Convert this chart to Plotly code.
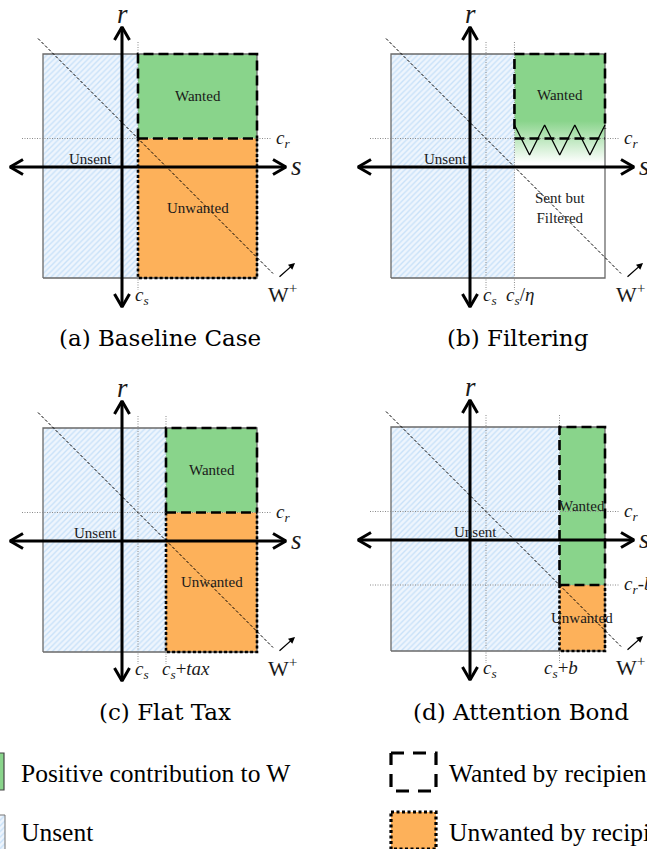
import plotly.graph_objects as go

FIG_W, FIG_H = 647, 849
PX = 10.0  # pixels per diagram unit

# ---- model quantities (diagram units, origin at the axis crossing) ----
S_RANGE = [-7.9, 13.5]      # sender-benefit extent of the message space
R_RANGE = [-11.1, 11.3]     # recipient-benefit extent
C_S = 1.6                   # sender cost
C_R = 2.85                  # recipient attention cost
ETA = 0.36                  # filter accuracy
TAX = 2.8                   # flat tax
BOND = 7.35                 # attention bond
W_SPAN = [-8.4, 15.1]       # extent of the iso-welfare line s + r = c_s + c_r
FADE_ZIGZAG_R = [4.2, 1.2, 4.2, 1.2, 4.2, 1.2, 4.2]  # filter edge in panel (b)

captions = ["(a) Baseline Case", "(b) Filtering", "(c) Flat Tax", "(d) Attention Bond"]
send_thresholds = [C_S, C_S / ETA, C_S + TAX, C_S + BOND]
want_thresholds = [C_R, C_R, C_R, C_R - BOND]
send_labels = [None, "<i>c<sub>s</sub></i>/<i>η</i>",
               "<i>c<sub>s</sub></i>+<i>tax</i>", "<i>c<sub>s</sub></i>+<i>b</i>"]
want_labels = [None, None, None, "<i>c<sub>r</sub></i>-<i>b</i>"]
unsent_label_s = [-3.2, -2.5, -2.7, 0.5]

# panel placement in pixels: (left, top, right, bottom, origin_x, origin_y)
boxes = [(0, 0, 320, 320, 122, 167), (320, 0, 647, 320, 470, 167),
         (0, 370, 320, 690, 122, 541), (320, 370, 647, 690, 470, 540)]
caption_px = [(160, 338), (518, 338), (165, 712), (521, 712)]

GREEN = "#89d48b"
ORANGE = "#fdb15a"
HATCH_FG = "#a3cdf4"
HATCH_BG = "#eef5fd"
BORDER_GREY = "#6a6a6a"
GUIDE = "#8a8a8a"
SERIF = "Liberation Serif, Times New Roman, serif"
CAPTION_FONT = "DejaVu Serif, serif"
TXT = "#1a1a1a"

fig = go.Figure()
layout = dict(width=FIG_W, height=FIG_H, margin=dict(l=0, r=0, t=0, b=0),
              paper_bgcolor="white", plot_bgcolor="rgba(0,0,0,0)",
              showlegend=False, annotations=[])


def line(xa, ya, xs, ys, color="black", width=1.0, dash=None, fill=None,
         fillcolor=None, **kw):
    fig.add_trace(go.Scatter(x=xs, y=ys, mode="lines", xaxis=xa, yaxis=ya,
                             line=dict(color=color, width=width, dash=dash),
                             fill=fill, fillcolor=fillcolor, hoverinfo="skip",
                             **kw))


def rect_path(s0, s1, r0, r1):
    return [s0, s1, s1, s0, s0], [r0, r0, r1, r1, r0]


def text(xa, ya, x, y, t, size, xanchor="center", italic=False, color=TXT,
         family=SERIF):
    layout["annotations"].append(dict(
        x=x, y=y, xref=xa, yref=ya, text=f"<i>{t}</i>" if italic else t,
        showarrow=False, xanchor=xanchor, yanchor="middle",
        font=dict(family=family, size=size, color=color)))


def double_arrow(xa, ya, p0, p1, vertical):
    head, half = 1.3, 0.75
    if vertical:
        line(xa, ya, [0, 0], [p0, p1], width=3)
        line(xa, ya, [-half, 0, half], [p1 - head, p1, p1 - head], width=3)
        line(xa, ya, [-half, 0, half], [p0 + head, p0, p0 + head], width=3)
    else:
        line(xa, ya, [p0, p1], [0, 0], width=3)
        line(xa, ya, [p1 - head, p1, p1 - head], [-half, 0, half], width=3)
        line(xa, ya, [p0 + head, p0, p0 + head], [-half, 0, half], width=3)


for i in range(4):
    sfx = "" if i == 0 else str(i + 1)
    xa, ya = "x" + sfx, "y" + sfx
    L, T, R, B, ox, oy = boxes[i]
    layout["xaxis" + sfx] = dict(domain=[L / FIG_W, R / FIG_W],
                                 range=[(L - ox) / PX, (R - ox) / PX],
                                 visible=False, fixedrange=True,
                                 anchor="y" + sfx)
    layout["yaxis" + sfx] = dict(domain=[1 - B / FIG_H, 1 - T / FIG_H],
                                 range=[(oy - B) / PX, (oy - T) / PX],
                                 visible=False, fixedrange=True,
                                 anchor="x" + sfx)

    s0, s1 = S_RANGE
    r0, r1 = R_RANGE
    ts = send_thresholds[i]
    tr = want_thresholds[i]

    # sent region fills
    if i == 1:
        xs, ys = rect_path(ts, s1, 0.0, r1)
        fig.add_trace(go.Scatter(
            x=xs, y=ys, mode="lines", xaxis=xa, yaxis=ya, fill="toself",
            line=dict(width=0), hoverinfo="skip",
            fillgradient=dict(type="vertical", start=0.4, stop=4.6,
                              colorscale=[[0, "white"], [1, GREEN]])))
    else:
        xs, ys = rect_path(ts, s1, tr, r1)
        line(xa, ya, xs, ys, width=0, fill="toself", fillcolor=GREEN)
        xs, ys = rect_path(ts, s1, r0, tr)
        line(xa, ya, xs, ys, width=0, fill="toself", fillcolor=ORANGE)

    # unsent region (hatched)
    xs, ys = rect_path(s0, ts, r0, r1)
    fig.add_trace(go.Scatter(
        x=xs, y=ys, mode="lines", xaxis=xa, yaxis=ya, fill="toself",
        line=dict(width=0), hoverinfo="skip",
        fillpattern=dict(shape="/", fgcolor=HATCH_FG, bgcolor=HATCH_BG,
                         size=4, solidity=0.35)))

    # outer border of the message space
    xs, ys = rect_path(s0, s1, r0, r1)
    line(xa, ya, xs, ys, color=BORDER_GREY, width=1.3)

    # guide lines for the thresholds
    v_guides = [C_S] + ([ts] if i > 0 else [])
    for g in v_guides:
        line(xa, ya, [g, g], [12.5, -12.3], color=GUIDE, width=1, dash="1px,1.5px")
    h_guides = [C_R] + ([tr] if i == 3 else [])
    for g in h_guides:
        line(xa, ya, [-10.0, 15.0], [g, g], color=GUIDE, width=1, dash="1px,1.5px")

    # region borders
    dash_w = "10px,5px"
    dot_w = "3px,2.2px"
    if i == 1:
        n = len(FADE_ZIGZAG_R) - 1
        zig_s = [ts + (s1 - ts) * k / n for k in range(n + 1)]
        line(xa, ya, zig_s, FADE_ZIGZAG_R, width=1.3)
        line(xa, ya, [ts, ts, s1, s1], [3.8, r1, r1, 3.8], width=2.6, dash=dash_w)
        line(xa, ya, [ts, s1], [C_R, C_R], width=2.6, dash=dash_w)
    else:
        line(xa, ya, [ts, ts, s1, s1], [tr, r1, r1, tr], width=2.6, dash=dash_w)
        line(xa, ya, [ts, ts, s1, s1], [tr, r0, r0, tr], width=2.6, dash=dot_w)
        line(xa, ya, [ts, s1], [tr, tr], width=2.6, dash=dash_w)

    # iso-welfare line
    k = C_S + C_R
    line(xa, ya, W_SPAN, [k - W_SPAN[0], k - W_SPAN[1]], width=1, dash="3px,2px")

    # axes
    double_arrow(xa, ya, -14.0, 14.0, vertical=True)
    double_arrow(xa, ya, -11.2, 16.4, vertical=False)
    text(xa, ya, 0, 15.3, "r", 27, italic=True)
    text(xa, ya, 17.4, 0.1, "s", 27, italic=True)

    # welfare direction arrow
    layout["annotations"].append(dict(
        x=17.3, y=-9.6, ax=15.6, ay=-11.1, xref=xa, yref=ya, axref=xa,
        ayref=ya, text="", showarrow=True, arrowhead=2, arrowsize=1,
        arrowwidth=1.3, arrowcolor="black"))
    text(xa, ya, 16.0, -12.6, "W<sup>+</sup>", 22)

    # threshold labels
    text(xa, ya, C_S + 0.35, -12.9, "<i>c<sub>s</sub></i>", 19)
    if send_labels[i]:
        off = {1: 0.6, 2: 2.0, 3: 0.1}[i]
        text(xa, ya, ts + off, -12.9, send_labels[i], 19)
    text(xa, ya, 15.2, C_R, "<i>c<sub>r</sub></i>", 19, xanchor="left")
    if want_labels[i]:
        text(xa, ya, 15.2, tr, want_labels[i], 19, xanchor="left")

    # region labels
    text(xa, ya, unsent_label_s[i], 0.8, "Unsent", 15)
    if i == 1:
        text(xa, ya, (ts + s1) / 2, (C_R + r1) / 2 + 0.1, "Wanted", 15)
        text(xa, ya, (ts + s1) / 2, -4.1, "Sent but<br>Filtered", 15)
    else:
        text(xa, ya, (ts + s1) / 2, (tr + r1) / 2, "Wanted", 15)
        text(xa, ya, (ts + s1) / 2, (r0 + tr) / 2, "Unwanted", 15)

# captions and key below the panels, laid out on a pixel-based axis
layout["xaxis5"] = dict(domain=[0, 1], range=[0, FIG_W], visible=False,
                        fixedrange=True, anchor="y5")
layout["yaxis5"] = dict(domain=[0, 1], range=[FIG_H, 0], visible=False,
                        fixedrange=True, anchor="x5")
for (cx, cy), cap in zip(caption_px, captions):
    text("x5", "y5", cx, cy, cap, 23, color="black", family=CAPTION_FONT)

xs, ys = rect_path(-5, 4, 753, 790)
line("x5", "y5", xs, ys, color="#444", width=1.2, fill="toself", fillcolor=GREEN)
xs, ys = rect_path(-5, 5, 815, 852)
fig.add_trace(go.Scatter(
    x=xs, y=ys, mode="lines", xaxis="x5", yaxis="y5", fill="toself",
    line=dict(color="#777", width=1), hoverinfo="skip",
    fillpattern=dict(shape="/", fgcolor=HATCH_FG, bgcolor=HATCH_BG,
                     size=4, solidity=0.35)))
xs, ys = rect_path(391, 436, 753, 791)
line("x5", "y5", xs, ys, width=3.2, dash="13px,9px")
xs, ys = rect_path(391, 436, 812, 849)
line("x5", "y5", xs, ys, width=3.2, dash="3px,2.5px", fill="toself",
     fillcolor=ORANGE)

key_items = [(19, 773, "Positive contribution to W"), (19, 832, "Unsent"),
             (447, 773, "Wanted by recipient"), (447, 832, "Unwanted by recipient")]
for kx, ky, kt in key_items:
    text("x5", "y5", kx, ky, kt, 25.5, xanchor="left", color="black")

fig.update_layout(**layout)
fig.write_html("out.html")
